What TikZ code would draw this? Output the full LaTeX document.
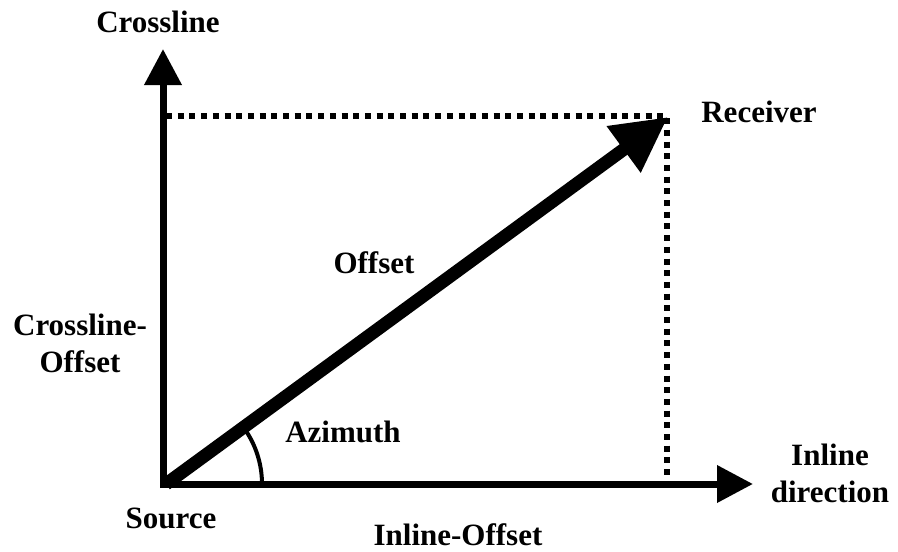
\documentclass[tikz,border=0pt]{standalone}
\usepackage{fontspec}
\setmainfont{Liberation Serif}
\usetikzlibrary{arrows.meta}
\begin{document}
\begin{tikzpicture}[x=1pt,y=-1pt,
  lbl/.style={font=\fontsize{31}{37}\selectfont\bfseries, inner sep=0pt, anchor=base, align=center},
  axisline/.style={line width=7pt, -{Triangle[length=36pt,width=36pt]}},
  offsetline/.style={line width=13pt, -{Triangle[length=55pt,width=54pt]}},
  dotline/.style={line width=6pt, dash pattern=on 6pt off 5.7pt},
  anglearc/.style={line width=4pt}]
\useasboundingbox (0,0) rectangle (898,552);
\coordinate (O) at (166,484);
\coordinate (Vb) at (163,488);
\coordinate (Vt) at (163,49);
\coordinate (Hb) at (160,484);
\coordinate (Ht) at (753,484);
\coordinate (R) at (668,117);
\coordinate (D1) at (166,116);
\coordinate (D2) at (667,116);
\coordinate (D3) at (667,478);
\coordinate (A0) at (262,484);
% dotted rectangle
\draw[dotline] (D1) -- (D2) -- (D3);
% axes
\draw[axisline] (Vb) -- (Vt);
\draw[axisline] (Hb) -- (Ht);
% offset vector
\draw[offsetline] (O) -- (R);
% azimuth arc
\draw[anglearc] (A0) arc[start angle=0, end angle=-36.1, radius=96];
% labels
\node[lbl] (crossline) at (158,32) {Crossline};
\node[lbl] (receiver) at (759,122) {Receiver};
\node[lbl] (offset) at (374,273) {Offset};
\node[lbl] (xoff) at (80,372) {Crossline-\\Offset};
\node[lbl] (azimuth) at (343,442) {Azimuth};
\node[lbl] (inline) at (830,502) {Inline\\direction};
\node[lbl] (source) at (171,528) {Source};
\node[lbl] (inoff) at (458,545) {Inline-Offset};
\end{tikzpicture}
\end{document}
